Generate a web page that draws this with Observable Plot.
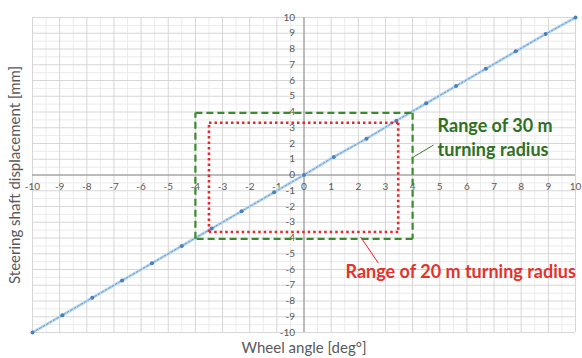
<!DOCTYPE html>
<html>
<head>
<meta charset="utf-8">
<script src="https://cdn.jsdelivr.net/npm/d3@7"></script>
<script src="https://cdn.jsdelivr.net/npm/@observablehq/plot@0.6"></script>
<style>
  html, body { margin: 0; padding: 0; background: #fff; }
  #chart svg { display: block; }
</style>
</head>
<body>
<div id="chart"></div>
<script>
// Data
const wheelAngle = [-10, -8.9, -7.8, -6.7, -5.6, -4.5, -3.4, -2.3, -1.1, 0, 1.1, 2.3, 3.4, 4.5, 5.6, 6.7, 7.8, 8.9, 10];
const shaftDisp  = [-10, -8.9, -7.8, -6.7, -5.6, -4.5, -3.4, -2.3, -1.1, 0, 1.15, 2.3, 3.45, 4.55, 5.65, 6.75, 7.85, 8.95, 10];
const majorTicks = [-10, -9, -8, -7, -6, -5, -4, -3, -2, -1, 0, 1, 2, 3, 4, 5, 6, 7, 8, 9, 10];
const minorTicks = majorTicks.slice(1).map(t => t - 0.5);
const range30 = {x1: -4, x2: 4, y1: -4.05, y2: 3.95};
const range20 = {x1: -3.5, x2: 3.47, y1: -3.62, y2: 3.32};
const label30 = ["Range of 30 m", "turning radius"];
const label20 = "Range of 20 m turning radius";
const xTitle = "Wheel angle [deg°]";
const yTitle = "Steering shaft displacement [mm]";

const points = wheelAngle.map((x, i) => ({x, y: shaftDisp[i]}));
const box = r => [
  {x1: r.x1, y1: r.y2, x2: r.x2, y2: r.y2},
  {x1: r.x2, y1: r.y2, x2: r.x2, y2: r.y1},
  {x1: r.x2, y1: r.y1, x2: r.x1, y2: r.y1},
  {x1: r.x1, y1: r.y1, x2: r.x1, y2: r.y2}
];

const font = "Lato, 'Open Sans', sans-serif";
const gray = "#595959";

const plot = Plot.plot({
  width: 582,
  height: 358,
  marginLeft: 32,
  marginRight: 7,
  marginTop: 17,
  marginBottom: 26,
  x: {domain: [-10, 10], axis: null},
  y: {domain: [-10, 10], axis: null},
  style: {fontFamily: font, background: "#fff"},
  marks: [
    Plot.gridX(minorTicks, {stroke: "#ebebeb", strokeOpacity: 1}),
    Plot.gridY(minorTicks, {stroke: "#ebebeb", strokeOpacity: 1}),
    Plot.gridX(majorTicks, {stroke: "#d6d6d6", strokeOpacity: 1}),
    Plot.gridY(majorTicks, {stroke: "#d6d6d6", strokeOpacity: 1}),
    Plot.ruleY([0], {stroke: "#8c8c8c", strokeWidth: 1}),
    Plot.ruleX([0], {stroke: "#8c8c8c", strokeWidth: 1}),
    Plot.text(majorTicks, {x: d => d, y: () => 0, text: d => String(d), dy: 12, fill: gray, fontSize: 10}),
    Plot.text(majorTicks, {x: () => 0, y: d => d, text: d => String(d), dx: -9, textAnchor: "end", fill: gray, fontSize: 10}),
    // data line
    Plot.line(points, {x: "x", y: "y", stroke: "#bdd7ee", strokeWidth: 3}),
    Plot.line(points, {x: "x", y: "y", stroke: "#5b9bd5", strokeWidth: 1, strokeDasharray: "2,2"}),
    Plot.dot(points, {x: "x", y: "y", r: 2, fill: "#4a7fc0", stroke: "none"}),
    // ranges
    Plot.link(box(range30), {x1: "x1", y1: "y1", x2: "x2", y2: "y2", stroke: "#3a8a2e", strokeWidth: 2.2, strokeDasharray: "7,4"}),
    Plot.link(box(range20), {x1: "x1", y1: "y1", x2: "x2", y2: "y2", stroke: "#e8262b", strokeWidth: 2.6, strokeDasharray: "2.5,3"}),
    // leaders
    Plot.link([{x1: 4.03, y1: 1.14, x2: 4.77, y2: 1.9}], {x1: "x1", y1: "y1", x2: "x2", y2: "y2", stroke: "#3a7d2c", strokeWidth: 1}),
    Plot.link([{x1: 2.08, y1: -3.92, x2: 2.74, y2: -5.6}], {x1: "x1", y1: "y1", x2: "x2", y2: "y2", stroke: "#e8262b", strokeWidth: 1}),
    Plot.text([label30[0]], {x: () => 4.92, y: () => 3.1, text: d => d, textAnchor: "start", fill: "#2f6f23", fontSize: 18, fontWeight: "bold"}),
    Plot.text([label30[1]], {x: () => 4.92, y: () => 1.55, text: d => d, textAnchor: "start", fill: "#2f6f23", fontSize: 18, fontWeight: "bold"}),
    Plot.text([label20], {x: () => 1.53, y: () => -6.2, text: d => d, textAnchor: "start", fill: "#e4322b", fontSize: 18, fontWeight: "bold"}),
    // axis titles
    Plot.text([xTitle], {frameAnchor: "bottom", text: d => d, dy: 16, lineAnchor: "middle", textAnchor: "middle", fill: gray, fontSize: 15}),
    Plot.text([yTitle], {frameAnchor: "left", text: d => d, dx: -17, rotate: -90, textAnchor: "middle", lineAnchor: "middle", fill: gray, fontSize: 15})
  ]
});
document.getElementById("chart").appendChild(plot);
</script>
</body>
</html>
